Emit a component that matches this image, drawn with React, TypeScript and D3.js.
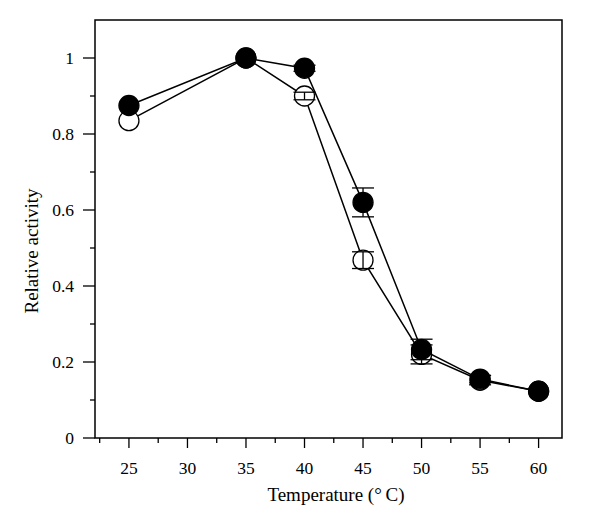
import React, { useEffect, useRef } from "react";
import * as d3 from "d3";

const temps = [25, 35, 40, 45, 50, 55, 60];
const filledValues = [0.875, 1.0, 0.973, 0.62, 0.233, 0.155, 0.123];
const filledErrors = [0, 0, 0.008, 0.038, 0.027, 0.01, 0];
const openValues = [0.835, 1.0, 0.9, 0.468, 0.22, 0.152, 0.123];
const openErrors = [0, 0, 0.01, 0.022, 0.025, 0.012, 0];
const xTicks = [25, 30, 35, 40, 45, 50, 55, 60];
const yTicks = [0, 0.2, 0.4, 0.6, 0.8, 1];

const App: React.FC = () => {
  const svgRef = useRef<SVGSVGElement | null>(null);

  useEffect(() => {
    const width = 600;
    const height = 529;
    const margin = { left: 95, top: 20, right: 38, bottom: 91 };
    const font = "'Liberation Serif', 'DejaVu Serif', serif";

    const svg = d3.select(svgRef.current);
    svg.selectAll("*").remove();
    svg.attr("width", width).attr("height", height);

    const x = d3
      .scaleLinear()
      .domain([22.1, 62])
      .range([margin.left, width - margin.right]);
    const y = d3
      .scaleLinear()
      .domain([0, 1.1])
      .range([height - margin.bottom, margin.top]);

    const [x0, x1] = x.range();
    const [y0, y1] = y.range();

    // frame
    svg
      .append("rect")
      .attr("x", x0)
      .attr("y", y1)
      .attr("width", x1 - x0)
      .attr("height", y0 - y1)
      .attr("fill", "none")
      .attr("stroke", "#000")
      .attr("stroke-width", 1.5);

    // x ticks
    const xMinor = d3.range(22.5, 62, 5);
    svg
      .append("g")
      .selectAll("line")
      .data(xTicks)
      .enter()
      .append("line")
      .attr("x1", (d) => x(d))
      .attr("x2", (d) => x(d))
      .attr("y1", y0)
      .attr("y2", y0 + 10)
      .attr("stroke", "#000")
      .attr("stroke-width", 1.3);
    svg
      .append("g")
      .selectAll("line")
      .data(xMinor)
      .enter()
      .append("line")
      .attr("x1", (d) => x(d))
      .attr("x2", (d) => x(d))
      .attr("y1", y0)
      .attr("y2", y0 + 5)
      .attr("stroke", "#000")
      .attr("stroke-width", 1.3);
    svg
      .append("g")
      .selectAll("text")
      .data(xTicks)
      .enter()
      .append("text")
      .attr("x", (d) => x(d))
      .attr("y", y0 + 36)
      .attr("text-anchor", "middle")
      .style("font-family", font)
      .style("font-size", "17.5px")
      .text((d) => d);

    // y ticks
    const yMinor = d3.range(0.1, 1.1, 0.2);
    svg
      .append("g")
      .selectAll("line")
      .data(yTicks)
      .enter()
      .append("line")
      .attr("x1", x0 - 12)
      .attr("x2", x0)
      .attr("y1", (d) => y(d))
      .attr("y2", (d) => y(d))
      .attr("stroke", "#000")
      .attr("stroke-width", 1.3);
    svg
      .append("g")
      .selectAll("line")
      .data(yMinor)
      .enter()
      .append("line")
      .attr("x1", x0 - 5)
      .attr("x2", x0)
      .attr("y1", (d) => y(d))
      .attr("y2", (d) => y(d))
      .attr("stroke", "#000")
      .attr("stroke-width", 1.3);
    svg
      .append("g")
      .selectAll("text")
      .data(yTicks)
      .enter()
      .append("text")
      .attr("x", x0 - 21)
      .attr("y", (d) => y(d) + 6)
      .attr("text-anchor", "end")
      .style("font-family", font)
      .style("font-size", "17.5px")
      .text((d) => (d === 0 || d === 1 ? String(d) : d.toFixed(1)));

    // axis titles
    svg
      .append("text")
      .attr("x", 336)
      .attr("y", 501)
      .attr("text-anchor", "middle")
      .style("font-family", font)
      .style("font-size", "19px")
      .text("Temperature (°\u2009C)");
    svg
      .append("text")
      .attr("transform", `translate(38, 251) rotate(-90)`)
      .attr("text-anchor", "middle")
      .style("font-family", font)
      .style("font-size", "19px")
      .text("Relative activity");

    const line = d3
      .line<number>()
      .x((_, i) => x(temps[i]))
      .y((d) => y(d));

    const drawSeries = (
      values: number[],
      errors: number[],
      fill: string
    ) => {
      const g = svg.append("g");
      g.append("path")
        .attr("d", line(values) as string)
        .attr("fill", "none")
        .attr("stroke", "#000")
        .attr("stroke-width", 1.5);
      values.forEach((v, i) => {
        const cx = x(temps[i]);
        g.append("circle")
          .attr("cx", cx)
          .attr("cy", y(v))
          .attr("r", 10)
          .attr("fill", fill)
          .attr("stroke", "#000")
          .attr("stroke-width", 1.3);
        const e = errors[i];
        if (e > 0) {
          g.append("line")
            .attr("x1", cx)
            .attr("x2", cx)
            .attr("y1", y(v - e))
            .attr("y2", y(v + e))
            .attr("stroke", "#000")
            .attr("stroke-width", 1.3);
          [v - e, v + e].forEach((c) => {
            g.append("line")
              .attr("x1", cx - 11)
              .attr("x2", cx + 11)
              .attr("y1", y(c))
              .attr("y2", y(c))
              .attr("stroke", "#000")
              .attr("stroke-width", 1.3);
          });
        }
      });
    };

    drawSeries(openValues, openErrors, "#fff");
    drawSeries(filledValues, filledErrors, "#000");
  }, []);

  return (
    <div style={{ width: 600, height: 529 }}>
      <svg ref={svgRef} style={{ position: "absolute", left: 0, top: 0 }}></svg>
    </div>
  );
};

export default App;
